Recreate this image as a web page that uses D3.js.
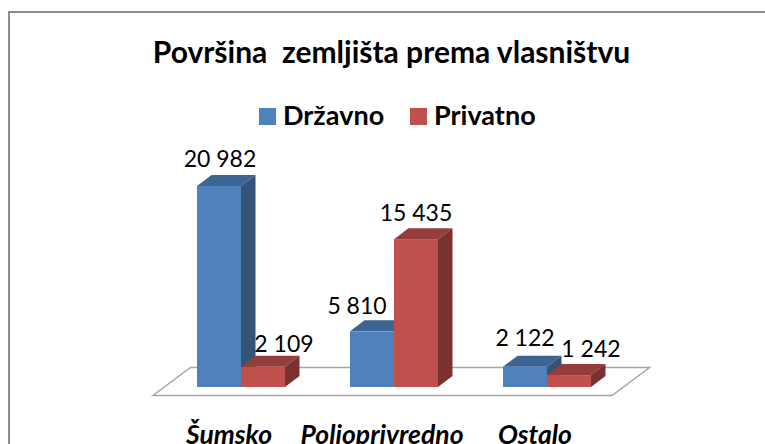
<!DOCTYPE html>
<html>
<head>
<meta charset="utf-8">
<style>
  html, body { margin: 0; padding: 0; background: #fff; overflow: hidden; }
  text { font-family: Lato, "Open Sans", sans-serif; fill: #000; }
</style>
</head>
<body>
<svg class="chart" width="765" height="444"></svg>
<script src="https://cdn.jsdelivr.net/npm/d3@7/dist/d3.min.js"></script>
<script>
const categories = ['Šumsko', 'Poljoprivredno', 'Ostalo']
const seriesNames = ['Državno', 'Privatno']
const drzavno = [20982, 5810, 2122]
const privatno = [2109, 15435, 1242]
const valueLabels = [['20 982', '5 810', '2 122'], ['2 109', '15 435', '1 242']]
const seriesValues = [drzavno, privatno]

const front = ['#4f81bd', '#c0504d']
const top_ = ['#3d6594', '#943d3a']
const side = ['#335379', '#7a3230']

// labels were moved by hand in the original, so each one has its own shift
const labelDx = [[1, -15, 0], [21, 0, 22]]
const labelDy = [[-19, -17, -21], [-15, -18, -18]]

const svg = d3.select('.chart')

// frame
svg.append('rect')
  .attr('x', 9).attr('y', 12)
  .attr('width', 800).attr('height', 500)
  .attr('fill', 'none')
  .attr('stroke', '#8c8c8c')
  .attr('stroke-width', 2)

const depthX = 14.5
const depthY = 11
const baseY = 387

const x = d3.scaleBand()
  .domain(categories)
  .range([164.5, 623.5])
  .paddingInner(0.425)
  .paddingOuter(0.2125)

const xInner = d3.scaleBand()
  .domain(seriesNames)
  .range([0, x.bandwidth()])

const y = d3.scaleLinear()
  .domain([0, 20982])
  .range([baseY, 186])

// floor
svg.append('path')
  .attr('d', `M153,395.5H612L649.5,367.5H190.5Z`)
  .attr('fill', '#fff')
  .attr('stroke', '#a6a6a6')
  .attr('stroke-width', 1.5)

title()
legend()

const groups = svg.selectAll('.cat')
  .data(categories)
  .join('g')
  .attr('class', 'cat')
  .attr('transform', d => `translate(${x(d)},0)`)

seriesNames.forEach((name, s) => {
  const w = xInner.bandwidth()
  const gx = xInner(name)
  const v = (i) => seriesValues[s][i]
  groups.append('path')
    .attr('fill', top_[s])
    .attr('d', (d, i) => `M${gx},${y(v(i))}l${depthX},${-depthY}h${w}l${-depthX},${depthY}Z`)
  groups.append('path')
    .attr('fill', side[s])
    .attr('d', (d, i) => `M${gx + w},${y(v(i))}l${depthX},${-depthY}V${baseY - depthY}l${-depthX},${depthY}Z`)
  groups.append('rect')
    .attr('x', gx)
    .attr('width', w)
    .attr('y', (d, i) => y(v(i)))
    .attr('height', (d, i) => baseY - y(v(i)))
    .attr('fill', front[s])
})

// value labels go on top of all the bars
seriesNames.forEach((name, s) => {
  groups.append('text')
    .attr('x', (d, i) => xInner(name) + xInner.bandwidth() / 2 + labelDx[s][i])
    .attr('y', (d, i) => y(seriesValues[s][i]) + labelDy[s][i])
    .attr('text-anchor', 'middle')
    .attr('font-size', 23)
    .text((d, i) => valueLabels[s][i])
})

groups.append('text')
  .attr('x', x.bandwidth() / 2 - 12)
  .attr('y', 444)
  .attr('text-anchor', 'middle')
  .attr('font-size', 26.5)
  .attr('font-weight', 700)
  .attr('font-style', 'italic')
  .text(d => d)

function title() {
  svg.append('text')
    .attr('x', 391.5)
    .attr('y', 63)
    .attr('text-anchor', 'middle')
    .attr('font-size', 30)
    .attr('font-weight', 700)
    .attr('xml:space', 'preserve')
    .style('white-space', 'pre')
    .text('Površina  zemljišta prema vlasništvu')
}

function legend() {
  const lg = svg.append('g')
  const lx = [259, 410]
  seriesNames.forEach((name, s) => {
    lg.append('rect')
      .attr('x', lx[s]).attr('y', 108)
      .attr('width', 17).attr('height', 17)
      .attr('fill', front[s])
    lg.append('text')
      .attr('x', lx[s] + 24).attr('y', 125)
      .attr('font-size', 27)
      .attr('font-weight', 700)
      .text(name)
  })
}
</script>
</body>
</html>
